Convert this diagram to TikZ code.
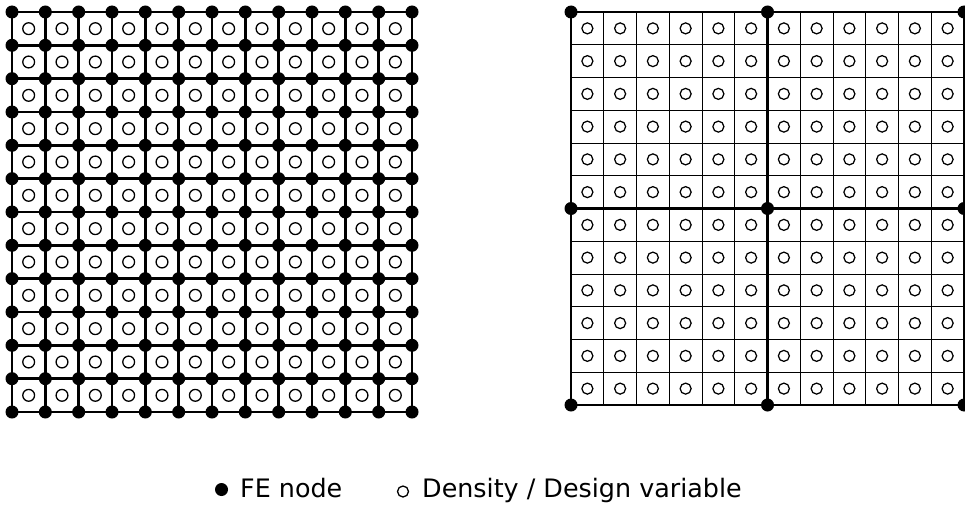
\documentclass[tikz,border=0pt]{standalone}
\usepackage{fontspec}
\setmainfont{DejaVu Sans}
\begin{document}
\begin{tikzpicture}[x=1pt,y=-1pt,
  fenode/.style={circle,fill=black,inner sep=0pt,minimum size=13pt},
  dvar/.style={circle,draw=black,line width=1.3pt,inner sep=0pt,minimum size=11.8pt},
  dvarr/.style={circle,draw=black,line width=1.25pt,inner sep=0pt,minimum size=11pt},
  thickline/.style={line width=2.4pt},
  thinline/.style={line width=1pt},
  legtext/.style={anchor=base west,inner sep=0pt,font=\fontsize{25.4}{28}\selectfont}]
\useasboundingbox (0,0) rectangle (965,508);
% ---------- left grid ----------
\def\Lx{12}\def\Ly{12}\def\Ls{33.3333}
\foreach \i in {0,...,12}{
  \draw[thickline] ({\Lx+\i*\Ls},\Ly) -- ({\Lx+\i*\Ls},{\Ly+12*\Ls});
  \draw[thickline] (\Lx,{\Ly+\i*\Ls}) -- ({\Lx+12*\Ls},{\Ly+\i*\Ls});
}
\foreach \i in {0,...,11}{
  \foreach \j in {0,...,11}{
    \node[dvar] (ld-\i-\j) at ({\Lx+(\i+0.5)*\Ls},{\Ly+(\j+0.5)*\Ls}) {};
  }
}
\foreach \i in {0,...,12}{
  \foreach \j in {0,...,12}{
    \node[fenode] (ln-\i-\j) at ({\Lx+\i*\Ls},{\Ly+\j*\Ls}) {};
  }
}
% ---------- right grid ----------
\def\Rx{571}\def\Ry{12}\def\Rs{32.75}
\foreach \i in {1,...,5,7,8,...,11}{
  \draw[thinline] ({\Rx+\i*\Rs},\Ry) -- ({\Rx+\i*\Rs},{\Ry+12*\Rs});
  \draw[thinline] (\Rx,{\Ry+\i*\Rs}) -- ({\Rx+12*\Rs},{\Ry+\i*\Rs});
}
\foreach \i in {0,6,12}{
  \draw[thickline] ({\Rx+\i*\Rs},\Ry) -- ({\Rx+\i*\Rs},{\Ry+12*\Rs});
  \draw[thickline] (\Rx,{\Ry+\i*\Rs}) -- ({\Rx+12*\Rs},{\Ry+\i*\Rs});
}
\foreach \i in {0,...,11}{
  \foreach \j in {0,...,11}{
    \node[dvarr] (rd-\i-\j) at ({\Rx+(\i+0.5)*\Rs},{\Ry+(\j+0.5)*\Rs}) {};
  }
}
\foreach \i in {0,6,12}{
  \foreach \j in {0,6,12}{
    \node[fenode] (rn-\i-\j) at ({\Rx+\i*\Rs},{\Ry+\j*\Rs}) {};
  }
}
% ---------- legend ----------
\node[circle,fill=black,inner sep=0pt,minimum size=13pt] (legfe) at (221.5,489.5) {};
\node[legtext] (legfetext) at (240,497) {FE node};
\node[circle,draw=black,line width=1.3pt,inner sep=0pt,minimum size=11pt] (legdv) at (403,491.5) {};
\node[legtext] (legdvtext) at (422,497) {Density / Design variable};
\end{tikzpicture}
\end{document}
